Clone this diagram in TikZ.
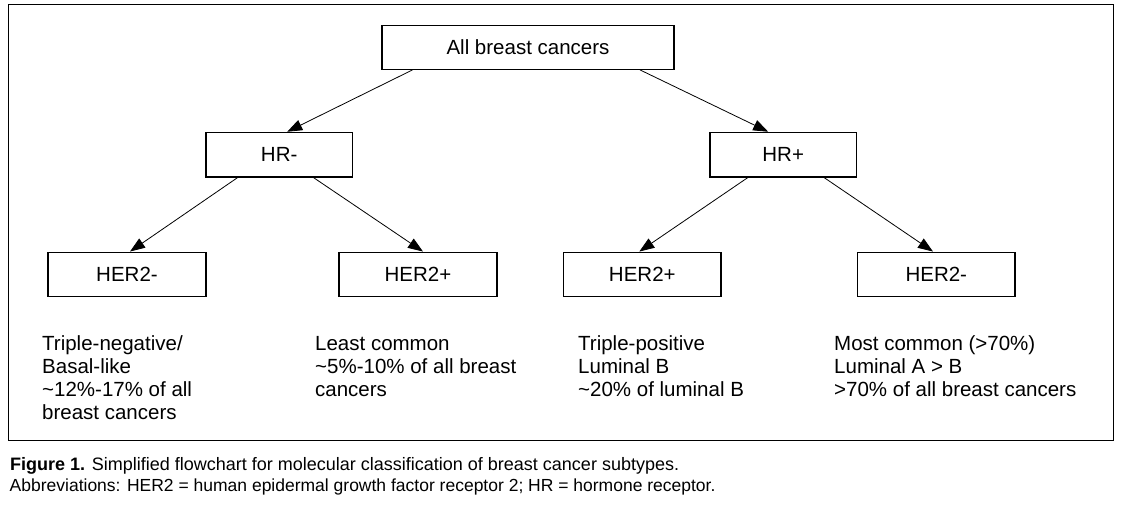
\documentclass[tikz,border=0pt]{standalone}
\usepackage{fontspec}
\setmainfont{Liberation Sans}
\usetikzlibrary{arrows.meta}
\newcommand\blocklines[1]{\vtop{\baselineskip=22.9pt\relax #1}}
\begin{document}
\begin{tikzpicture}[x=1pt,y=-1pt,
  box/.style={draw,line width=1.2pt,rectangle,inner sep=0pt,minimum height=44.7pt,
    font=\fontsize{20.5}{23}\selectfont},
  conn/.style={line width=0.8pt,-{Triangle[length=15pt,width=11pt]}},
  desc/.style={anchor=base west,inner sep=0pt,font=\fontsize{20.5}{22.9}\selectfont},
  capt/.style={anchor=base west,inner sep=0pt}]
\useasboundingbox (0,0) rectangle (1122,506);
\draw[line width=1pt] (8.6,4.3) rectangle (1113.7,440);
\node[box,minimum width=292pt,minimum height=44pt] (all) at (528,47.3) {All breast cancers};
\node[box,minimum width=146.5pt] (hrn) at (279.2,154.7) {HR-};
\node[box,minimum width=146.5pt] (hrp) at (783.2,154.7) {HR+};
\node[box,minimum width=158pt] (h2nl) at (127,274.5) {HER2-};
\node[box,minimum width=158pt] (h2pl) at (418,274.5) {HER2+};
\node[box,minimum width=157.4pt] (h2pr) at (642.3,274.5) {HER2+};
\node[box,minimum width=157.5pt] (h2nr) at (936.3,274.5) {HER2-};
\draw[conn] ([xshift=-115.5pt]all.south) -- ([xshift=8pt]hrn.north);
\draw[conn] ([xshift=112pt]all.south) -- ([xshift=-15pt]hrp.north);
\draw[conn] ([xshift=-41.7pt]hrn.south) -- ([xshift=3pt]h2nl.north);
\draw[conn] ([xshift=34.4pt]hrn.south) -- ([xshift=5pt]h2pl.north);
\draw[conn] ([xshift=-35.5pt]hrp.south) -- ([xshift=-3pt]h2pr.north);
\draw[conn] ([xshift=41pt]hrp.south) -- ([xshift=-3.3pt]h2nr.north);
\node[desc] (d1) at (42,350.7) {\blocklines{\hbox{Triple-negative/}\hbox{Basal-like}\hbox{\textasciitilde12\%-17\% of all}\hbox{breast cancers}}};
\node[desc] (d2) at (315,350.7) {\blocklines{\hbox{Least common}\hbox{\textasciitilde5\%-10\% of all breast}\hbox{cancers}}};
\node[desc] (d3) at (578,350.7) {\blocklines{\hbox{Triple-positive}\hbox{Luminal B}\hbox{\textasciitilde20\% of luminal B}}};
\node[desc] (d4) at (834,350.7) {\blocklines{\hbox{Most common (>70\%)}\hbox{Luminal A > B}\hbox{>70\% of all breast cancers}}};
\node[capt,font=\fontsize{18}{21}\selectfont] (c1) at (10,470.5) {\textbf{Figure 1.} Simplified flowchart for molecular classification of breast cancer subtypes.};
\node[capt,font=\fontsize{17.5}{21}\selectfont] (c2) at (9.5,491.5) {Abbreviations: HER2 = human epidermal growth factor receptor 2; HR = hormone receptor.};
\end{tikzpicture}
\end{document}
